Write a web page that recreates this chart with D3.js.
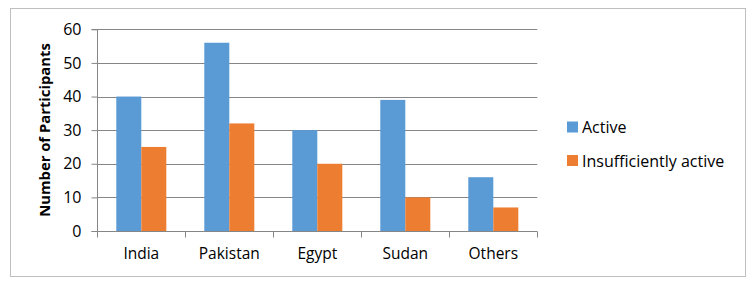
<!DOCTYPE html>
<html><head><meta charset="utf-8">
<script src="https://cdn.jsdelivr.net/npm/d3@7"></script>
<style>body{margin:0;background:#fff}svg{display:block}</style>
</head><body>
<script>
const categories = ["India","Pakistan","Egypt","Sudan","Others"];
const seriesNames = ["Active","Insufficiently active"];
const activeValues = [40,56,30,39,16];
const insufficientValues = [25,32,20,10,7];
const yTicks = [0,10,20,30,40,50,60];
const colors = ["#5B9BD5","#ED7D31"];
const font = "'Open Sans', sans-serif";

(function(){
const W=756,H=288;
const svg=d3.select("body").append("svg").attr("width",W).attr("height",H);
svg.append("rect").attr("x",10.5).attr("y",8.5).attr("width",735).attr("height",268)
  .attr("fill","#fff").attr("stroke","#bfbfbf").attr("stroke-width",1);

const pL=97.3,pR=537.3,pT=29.3,pB=231;
const x=d3.scaleBand().domain(categories).range([pL,pR]);
const y=d3.scaleLinear().domain([0,60]).range([pB,pT]);
const barW=x.bandwidth()*25/88;
const gap=x.bandwidth()*19/88;

svg.append("g").selectAll("line").data(yTicks.filter(d=>d>0)).join("line")
  .attr("x1",pL).attr("x2",pR).attr("y1",d=>Math.round(y(d))+0.5).attr("y2",d=>Math.round(y(d))+0.5)
  .attr("stroke","#868686").attr("stroke-width",1);

const series=[activeValues,insufficientValues];
series.forEach((vals,si)=>{
  svg.append("g").selectAll("rect").data(categories).join("rect")
    .attr("x",d=>x(d)+gap+si*barW)
    .attr("y",(d,i)=>y(vals[i]))
    .attr("width",barW)
    .attr("height",(d,i)=>y(0)-y(vals[i]))
    .attr("fill",colors[si]);
});

const yAxis=d3.axisLeft(y).tickValues(yTicks).tickSize(6).tickPadding(10);
const gy=svg.append("g").attr("transform",`translate(${Math.round(pL)+0.5},0)`).call(yAxis);
gy.select(".domain").attr("stroke","#868686").attr("d",`M-6,${Math.round(pT)+0.5}H0V${Math.round(pB)+0.5}H-6`);
gy.selectAll(".tick line").attr("stroke","#868686");
gy.selectAll("text").attr("font-family",font).attr("font-size",16).attr("fill","#000");

const xAxis=d3.axisBottom(x).tickSize(0).tickPadding(16);
const gx=svg.append("g").attr("transform",`translate(0,${Math.round(pB)+0.5})`).call(xAxis);
gx.select(".domain").attr("stroke","#868686").attr("d",`M${pL},0H${pR}`);
gx.selectAll("text").attr("font-family",font).attr("font-size",15.5).attr("fill","#000");
const bounds=categories.map(c=>x(c)).concat([pR]);
svg.append("g").selectAll("line").data(bounds).join("line")
  .attr("x1",d=>Math.round(d)+0.5).attr("x2",d=>Math.round(d)+0.5)
  .attr("y1",Math.round(pB)+0.5).attr("y2",Math.round(pB)+6.5)
  .attr("stroke","#868686");

svg.append("text").attr("transform",`translate(50,130) rotate(-90)`)
  .attr("text-anchor","middle").attr("font-family",font).attr("font-size",14.8).attr("font-weight","bold")
  .text("Number of Participants");

const lg=svg.append("g");
seriesNames.forEach((n,i)=>{
  const cy=126.5+i*33.5;
  lg.append("rect").attr("x",567).attr("y",cy-5).attr("width",11).attr("height",11).attr("fill",colors[i]);
  lg.append("text").attr("x",582).attr("y",cy+1).attr("dy","0.35em").attr("font-family",font).attr("font-size",16).text(n);
});
})();
</script>
</body></html>
